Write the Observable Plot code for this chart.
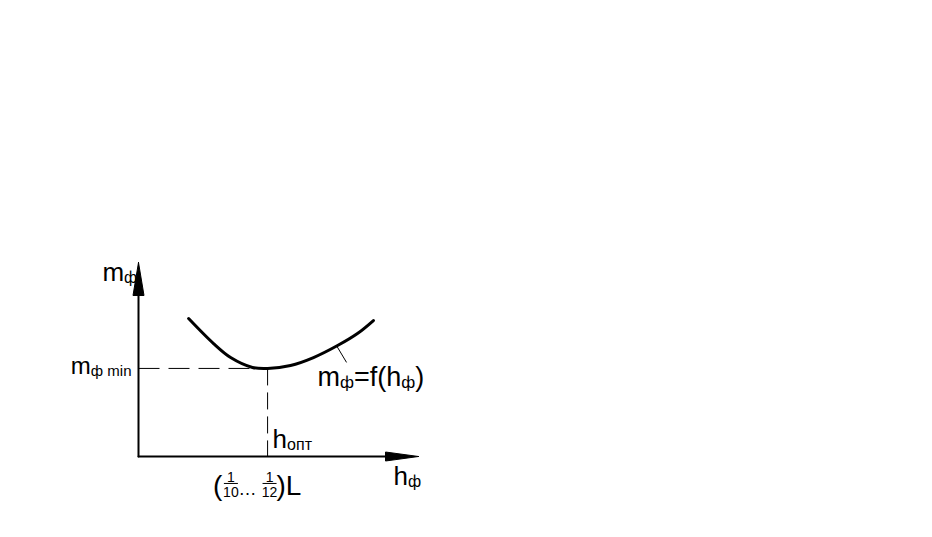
<!DOCTYPE html>
<html><head><meta charset="utf-8">
<script src="https://cdn.jsdelivr.net/npm/d3@7"></script>
<script src="https://cdn.jsdelivr.net/npm/@observablehq/plot@0.6"></script>
<style>html,body{margin:0;background:#fff}svg{display:block}</style>
</head><body><div id="chart"></div>
<script>
// ---- data (abstract schematic units) ----
const curveH = [1.79, 2.68, 3.29, 4.07, 4.61, 5.43, 6.25, 7.11, 7.82, 8.39];
const curveM = [7.11, 5.82, 5.10, 4.59, 4.54, 4.69, 5.10, 5.72, 6.34, 7.01];
const hOpt = 4.61;
const mMin = 4.54;
const axisMaxH = 10;
const axisMaxM = 10;

const labelTexts = ["m_{ф}", "m_{ф min}", "m_{ф}=f(h_{ф})", "h_{опт}", "h_{ф}"];
const labelX = [-1.29, -0.25, 6.39, 4.79, 9.11];
const labelY = [9.07, 4.23, 3.61, 0.46, -1.49];
const labelAnchor = ["start", "end", "start", "start", "start"];
const labelSize = [26, 24, 27, 26, 26];

// fraction label  (1/10 … 1/12)L
const fracBig = ["(", ")L"];
const fracBigX = [2.66, 4.93];
const fracDots = "…";
const fracDotsX = 3.57;
const fracNum = ["1", "1"];
const fracDen = ["10", "12"];
const fracX = [3.30, 4.68];
const fracHalfW = [0.25, 0.25];

// ---- layout ----
const W = 932, H = 537;
const pxPerH = 28, pxPerM = 19.4, originX = 138, originY = 456;

const curve = curveH.map((h, i) => ({h, m: curveM[i]}));
const axisH = [{h: 0, m: 0}, {h: axisMaxH - 1.0, m: 0}];
const axisM = [{h: 0, m: 0}, {h: 0, m: axisMaxM - 1.5}];
const arrowLenH = 33 / pxPerH, arrowHalfH = 4.5 / pxPerM;
const arrowLenM = 33 / pxPerM, arrowHalfM = 5.5 / pxPerH;
const arrowHeadH = [
  {h: axisMaxH, m: 0}, {h: axisMaxH - arrowLenH, m: arrowHalfH},
  {h: axisMaxH - arrowLenH, m: -arrowHalfH}, {h: axisMaxH, m: 0}];
const arrowHeadM = [
  {h: 0, m: axisMaxM}, {h: -arrowHalfM, m: axisMaxM - arrowLenM},
  {h: arrowHalfM, m: axisMaxM - arrowLenM}, {h: 0, m: axisMaxM}];

const labels = labelTexts.map((t, i) => ({t, x: labelX[i], y: labelY[i], a: labelAnchor[i], s: labelSize[i]}));
const yBig = -2.01, yNum = -1.29, yDen = -2.11, yBar = -1.39;
const fracBigData = fracBig.map((t, i) => ({t, x: fracBigX[i]}));
const fracSmall = [
  ...fracNum.map((t, i) => ({t, x: fracX[i], y: yNum})),
  ...fracDen.map((t, i) => ({t, x: fracX[i], y: yDen}))
];
const fracBars = fracX.map((x, i) => ({x1: x - fracHalfW[i], x2: x + fracHalfW[i], y: yBar}));

const textMarks = (data, anchor, opts) =>
  Plot.text(data, {filter: d => d.a === anchor, textAnchor: anchor, x: "x", text: "t", lineAnchor: "bottom", fill: "black", ...opts});

const chart = Plot.plot({
  width: W, height: H, margin: 0,
  style: {background: "white", fontFamily: "Liberation Sans, Arial, sans-serif", color: "black"},
  x: {domain: [-originX / pxPerH, (W - originX) / pxPerH], axis: null},
  y: {domain: [-(H - originY) / pxPerM, originY / pxPerM], axis: null},
  marks: [
    // dashed guides
    Plot.link([{x1: 0, x2: hOpt, y1: mMin, y2: mMin}], {x1: "x1", x2: "x2", y1: "y1", y2: "y2", stroke: "black", strokeWidth: 1, strokeDasharray: "21,9"}),
    Plot.link([{x1: hOpt, x2: hOpt, y1: mMin, y2: 0}], {x1: "x1", x2: "x2", y1: "y1", y2: "y2", stroke: "black", strokeWidth: 1, strokeDasharray: "17,7"}),
    // axes
    Plot.line(axisH, {x: "h", y: "m", stroke: "black", strokeWidth: 2}),
    Plot.line(axisM, {x: "h", y: "m", stroke: "black", strokeWidth: 2}),
    Plot.line(arrowHeadH, {x: "h", y: "m", fill: "black", stroke: "black", strokeWidth: 1}),
    Plot.line(arrowHeadM, {x: "h", y: "m", fill: "black", stroke: "black", strokeWidth: 1}),
    // curve
    Plot.line(curve, {x: "h", y: "m", curve: "catmull-rom", stroke: "black", strokeWidth: 3}),
    // leader line
    Plot.link([{x1: 7.07, y1: 5.72, x2: 7.43, y2: 4.85}], {x1: "x1", x2: "x2", y1: "y1", y2: "y2", stroke: "black", strokeWidth: 1}),
    // labels
    textMarks(labels, "start", {y: "y", fontSize: "s"}),
    textMarks(labels, "end", {y: "y", fontSize: "s"}),
    // fraction
    Plot.text(fracBigData, {x: "x", y: () => yBig, text: "t", textAnchor: "start", fontSize: 28, lineAnchor: "bottom", fill: "black"}),
    Plot.text([fracDots], {x: () => fracDotsX, y: () => yBig, text: d => d, textAnchor: "start", fontSize: 18, lineAnchor: "bottom", fill: "black"}),
    Plot.text(fracSmall, {x: "x", y: "y", text: "t", fontSize: 14, lineAnchor: "bottom", fill: "black"}),
    Plot.link(fracBars, {x1: "x1", x2: "x2", y1: "y", y2: "y", stroke: "black", strokeWidth: 1})
  ]
});

// convert "_{...}" into subscript tspans (real text)
chart.querySelectorAll("text").forEach(el => {
  const s = el.textContent;
  if (!s.includes("_{")) return;
  const fs = parseFloat(el.getAttribute("font-size") || el.parentNode.getAttribute("font-size") || 16);
  el.textContent = "";
  const parts = s.split(/(_\{[^}]*\})/).filter(p => p.length);
  let shifted = false;
  parts.forEach(p => {
    const ts = document.createElementNS("http://www.w3.org/2000/svg", "tspan");
    if (p.startsWith("_{")) {
      ts.textContent = p.slice(2, -1);
      ts.setAttribute("font-size", Math.round(fs * 0.62));
      if (!shifted) { ts.setAttribute("dy", 2); shifted = true; }
    } else {
      ts.textContent = p;
      if (shifted) { ts.setAttribute("dy", -2); shifted = false; }
    }
    el.appendChild(ts);
  });
});

document.getElementById("chart").appendChild(chart);
</script>
</body></html>
